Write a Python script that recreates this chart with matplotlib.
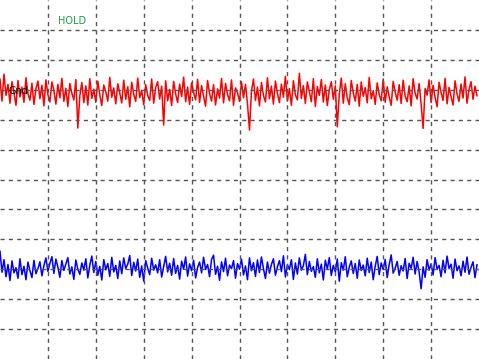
import numpy as np
import matplotlib
matplotlib.use("Agg")
import matplotlib.pyplot as plt

# trace values in divisions x100, one sample every 2 px
ch1 = [335, 262, 352, 281, 318, 255, 327, 290, 248, 331, 276, 309, 258, 340, 287, 265, 322, 251, 303, 329,
       270, 315, 246, 333, 284, 259, 326, 297, 252, 318, 273, 338, 261, 305, 244, 321, 288, 266, 334, 172,
       280, 324, 257, 313, 249, 337, 271, 302, 258, 329, 283, 247, 316, 293, 262, 341, 275, 306, 253, 320,
       289, 256, 332, 268, 310, 243, 325, 285, 261, 339, 274, 298, 250, 317, 281, 264, 336, 255, 307, 327,
       269, 312, 182, 330, 263, 301, 247, 328, 286, 257, 319, 277, 342, 260, 309, 251, 323, 292, 266, 335,
       258, 314, 279, 245, 331, 287, 262, 317, 249, 303, 272, 338, 256, 321, 284, 263, 333, 248, 306, 290,
       261, 327, 273, 318, 253, 165, 296, 336, 264, 309, 246, 324, 281, 259, 340, 270, 312, 252, 329, 287,
       257, 319, 275, 345, 262, 304, 248, 330, 283, 266, 355, 271, 314, 254, 326, 293, 260, 337, 244, 311,
       281, 334, 259, 316, 247, 300, 327, 268, 313, 176, 286, 339, 255, 320, 273, 250, 331, 289, 262, 318,
       245, 326, 278, 307, 256, 341, 270, 297, 251, 323, 284, 263, 336, 258, 310, 276, 248, 328, 292, 265,
       317, 254, 332, 279, 260, 313, 246, 337, 288, 269, 321, 252, 171, 304, 282, 333, 257, 315, 274, 243,
       325, 291, 264, 338, 253, 308, 277, 249, 330, 286, 261, 319, 272, 343, 255, 300, 327, 268, 312, 280]

ch2 = [-240, -310, -268, -325, -284, -338, -272, -312, -295, -330, -265, -318, -290, -335, -276, -305, -328, -270, -315, -298,
       -275, -322, -288, -262, -307, -280, -258, -314, -266, -293, -327, -271, -304, -283, -261, -316, -292, -334, -269, -300,
       -317, -279, -303, -265, -329, -286, -256, -311, -274, -320, -290, -336, -268, -302, -281, -324, -260, -309, -287, -331,
       -272, -315, -262, -298, -283, -254, -321, -277, -306, -266, -327, -289, -340, -271, -296, -318, -263, -303, -285, -312,
       -268, -326, -291, -257, -309, -280, -320, -264, -314, -287, -333, -273, -300, -259, -323, -282, -305, -270, -329, -294,
       -276, -312, -260, -301, -284, -325, -267, -253, -317, -290, -337, -275, -308, -263, -322, -286, -298, -271, -330, -281,
       -300, -266, -319, -289, -335, -262, -305, -278, -324, -269, -311, -259, -298, -331, -276, -313, -284, -265, -320, -292,
       -271, -308, -255, -326, -285, -301, -268, -334, -279, -316, -262, -303, -288, -250, -318, -274, -307, -291, -327, -265,
       -312, -283, -336, -270, -299, -261, -321, -287, -309, -266, -340, -278, -303, -258, -325, -293, -272, -314, -281, -330,
       -269, -304, -286, -322, -263, -311, -276, -335, -290, -257, -318, -279, -301, -267, -328, -284, -252, -313, -296, -274,
       -320, -288, -306, -264, -331, -280, -297, -260, -316, -274, -309, -365, -292, -327, -268, -303, -282, -319, -261, -300,
       -287, -325, -270, -312, -256, -298, -283, -330, -266, -305, -289, -322, -273, -310, -259, -317, -294, -275, -328, -285]

t = np.arange(len(ch1)) * 2

fig = plt.figure(figsize=(4.79, 3.59), dpi=100)
ax = fig.add_axes([0, 0, 1, 1])
ax.set_xlim(0, 480)
ax.set_ylim(-6, 6)
ax.axis("off")

ax.plot(t, np.array(ch1) / 100, color="#ff0000", lw=1.1, zorder=2)
ax.plot(t, np.array(ch2) / 100, color="#0000ff", lw=1.1, zorder=2)

for x in range(48, 480, 48):
    ax.axvline(x, color="#555555", lw=1, ls=(0, (3, 3)), zorder=3)
for y in range(-5, 6):
    ax.axhline(y, color="#555555", lw=1, ls=(0, (3, 3)), zorder=3)

ax.text(58, 5.3, "HOLD", color="#1a9e3a", fontsize=7, va="center", zorder=4)
ax.text(9, 2.97, "Gnd", color="black", fontsize=7, va="center", zorder=4)

fig.savefig("out.png", dpi=100)
